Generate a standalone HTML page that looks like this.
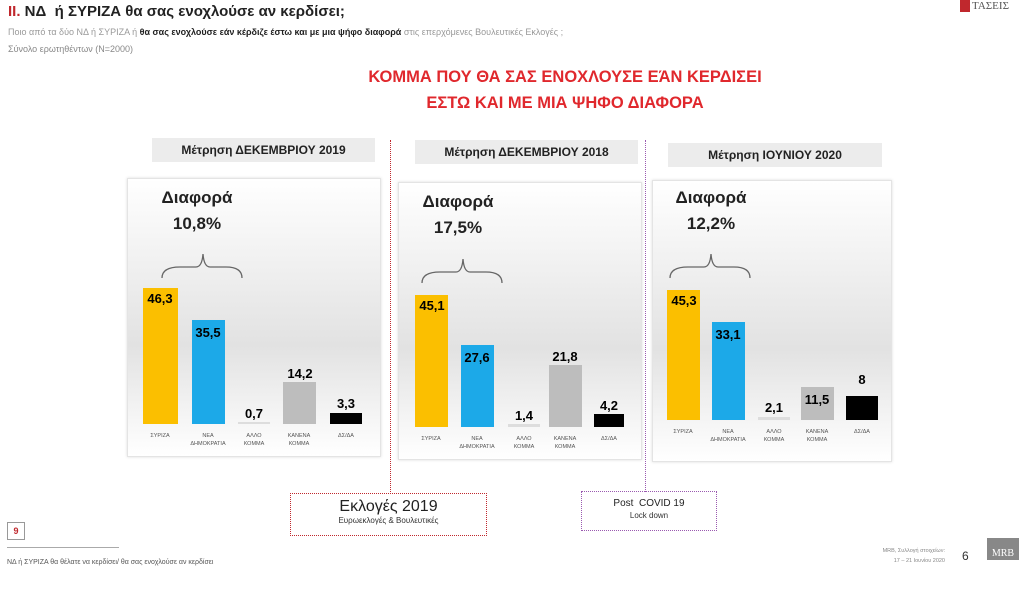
<!DOCTYPE html>
<html><head><meta charset="utf-8"><style>
body{margin:0;width:1024px;height:595px;background:#fff;position:relative;overflow:hidden;font-family:"Liberation Sans","DejaVu Sans",sans-serif}
.a{position:absolute}
.hdr{background:#ececec;font-size:12px;font-weight:bold;color:#222;text-align:center;line-height:24px}
.box{background:linear-gradient(#fff 0%,#e2e2e2 60%,#fff 100%);border:1px solid #e4e4e4;box-shadow:0 0 3px #ddd}
.b{position:absolute}
.v{position:absolute;font-weight:bold;font-size:13px;text-align:center;width:40px}
.l{position:absolute;font-size:5.5px;color:#555;text-align:center;width:50px;line-height:8px}
.d{position:absolute;font-size:17px;font-weight:bold;color:#222;text-align:center;width:120px;line-height:26px}
</style></head><body>
<div class="a" style="left:8px;top:3px;font-size:15px;font-weight:bold;color:#222"><span style="color:#c0282d">II.</span> ΝΔ &nbsp;ή ΣΥΡΙΖΑ θα σας ενοχλούσε αν κερδίσει;</div>
<div class="a" style="left:8px;top:27px;font-size:9px;color:#999">Ποιο από τα δύο ΝΔ ή ΣΥΡΙΖΑ ή <b style="color:#222">θα σας ενοχλούσε εάν κέρδιζε έστω και με μια ψήφο διαφορά</b> στις επερχόμενες Βουλευτικές Εκλογές ;</div>
<div class="a" style="left:8px;top:44px;font-size:9px;color:#888">Σύνολο ερωτηθέντων (Ν=2000)</div>
<div class="a" style="left:960px;top:0;width:10px;height:12px;background:#c0282d"></div>
<div class="a" style="left:972px;top:0;font-size:11px;color:#555;font-family:'Liberation Serif',serif">ΤΑΣΕΙΣ</div>
<div class="a" style="left:300px;top:64px;width:530px;text-align:center;font-size:16.5px;font-weight:bold;color:#e0282d;line-height:26px">ΚΟΜΜΑ ΠΟΥ ΘΑ ΣΑΣ ΕΝΟΧΛΟΥΣΕ ΕΆΝ ΚΕΡΔΙΣΕΙ<br>ΕΣΤΩ ΚΑΙ ΜΕ ΜΙΑ ΨΗΦΟ ΔΙΑΦΟΡΑ</div>

<div class="a" style="left:390px;top:140px;height:352px;border-left:1px dotted #c0282d"></div>
<div class="a" style="left:645px;top:140px;height:352px;border-left:1px dotted #9a5ab0"></div>

<!-- panel 1 -->
<div class="a hdr" style="left:152px;top:138px;width:223px">Μέτρηση ΔΕΚΕΜΒΡΙΟΥ 2019</div>
<div class="a box" style="left:127px;top:178px;width:252px;height:277px"></div>
<div class="d" style="left:137px;top:185px">Διαφορά<br>10,8%</div>
<svg class="a" style="left:160px;top:250px" width="85" height="30"><path d="M2 28 Q2 17 20 17 L36 17 Q42 17 43 4 Q44 17 50 17 L66 17 Q82 17 82 28" fill="none" stroke="#666" stroke-width="1.3"/></svg>
<div class="b" style="left:143px;top:288px;width:35px;height:136px;background:#fbbf00"></div>
<div class="b" style="left:192px;top:320px;width:33px;height:104px;background:#1ca9e8"></div>
<div class="b" style="left:238px;top:422px;width:32px;height:2px;background:#ddd"></div>
<div class="b" style="left:283px;top:382px;width:33px;height:42px;background:#bdbdbd"></div>
<div class="b" style="left:330px;top:413px;width:32px;height:11px;background:#000"></div>
<div class="v" style="left:140px;top:291px">46,3</div>
<div class="v" style="left:188px;top:325px">35,5</div>
<div class="v" style="left:234px;top:406px">0,7</div>
<div class="v" style="left:280px;top:366px">14,2</div>
<div class="v" style="left:326px;top:396px">3,3</div>
<div class="l" style="left:135px;top:432px">ΣΥΡΙΖΑ</div>
<div class="l" style="left:183px;top:432px">ΝΕΑ<br>ΔΗΜΟΚΡΑΤΙΑ</div>
<div class="l" style="left:229px;top:432px">ΑΛΛΟ<br>ΚΟΜΜΑ</div>
<div class="l" style="left:274px;top:432px">ΚΑΝΕΝΑ<br>ΚΟΜΜΑ</div>
<div class="l" style="left:321px;top:432px">ΔΣ/ΔΑ</div>

<!-- panel 2 -->
<div class="a hdr" style="left:415px;top:140px;width:223px">Μέτρηση ΔΕΚΕΜΒΡΙΟΥ 2018</div>
<div class="a box" style="left:398px;top:182px;width:242px;height:276px"></div>
<div class="d" style="left:398px;top:189px">Διαφορά<br>17,5%</div>
<svg class="a" style="left:420px;top:255px" width="85" height="30"><path d="M2 28 Q2 17 20 17 L36 17 Q42 17 43 4 Q44 17 50 17 L66 17 Q82 17 82 28" fill="none" stroke="#666" stroke-width="1.3"/></svg>
<div class="b" style="left:415px;top:295px;width:33px;height:132px;background:#fbbf00"></div>
<div class="b" style="left:461px;top:345px;width:33px;height:82px;background:#1ca9e8"></div>
<div class="b" style="left:508px;top:424px;width:32px;height:3px;background:#ddd"></div>
<div class="b" style="left:549px;top:365px;width:33px;height:62px;background:#bdbdbd"></div>
<div class="b" style="left:594px;top:414px;width:30px;height:13px;background:#000"></div>
<div class="v" style="left:412px;top:298px">45,1</div>
<div class="v" style="left:457px;top:350px">27,6</div>
<div class="v" style="left:504px;top:408px">1,4</div>
<div class="v" style="left:545px;top:349px">21,8</div>
<div class="v" style="left:589px;top:398px">4,2</div>
<div class="l" style="left:406px;top:435px">ΣΥΡΙΖΑ</div>
<div class="l" style="left:452px;top:435px">ΝΕΑ<br>ΔΗΜΟΚΡΑΤΙΑ</div>
<div class="l" style="left:499px;top:435px">ΑΛΛΟ<br>ΚΟΜΜΑ</div>
<div class="l" style="left:540px;top:435px">ΚΑΝΕΝΑ<br>ΚΟΜΜΑ</div>
<div class="l" style="left:584px;top:435px">ΔΣ/ΔΑ</div>

<!-- panel 3 -->
<div class="a hdr" style="left:668px;top:143px;width:214px">Μέτρηση ΙΟΥΝΙΟΥ 2020</div>
<div class="a box" style="left:652px;top:180px;width:238px;height:280px"></div>
<div class="d" style="left:651px;top:185px">Διαφορά<br>12,2%</div>
<svg class="a" style="left:668px;top:250px" width="85" height="30"><path d="M2 28 Q2 17 20 17 L36 17 Q42 17 43 4 Q44 17 50 17 L66 17 Q82 17 82 28" fill="none" stroke="#666" stroke-width="1.3"/></svg>
<div class="b" style="left:667px;top:290px;width:33px;height:130px;background:#fbbf00"></div>
<div class="b" style="left:712px;top:322px;width:33px;height:98px;background:#1ca9e8"></div>
<div class="b" style="left:758px;top:417px;width:32px;height:3px;background:#ddd"></div>
<div class="b" style="left:801px;top:387px;width:33px;height:33px;background:#bdbdbd"></div>
<div class="b" style="left:846px;top:396px;width:32px;height:24px;background:#000"></div>
<div class="v" style="left:664px;top:293px">45,3</div>
<div class="v" style="left:708px;top:327px">33,1</div>
<div class="v" style="left:754px;top:400px">2,1</div>
<div class="v" style="left:797px;top:392px">11,5</div>
<div class="v" style="left:842px;top:372px">8</div>
<div class="l" style="left:658px;top:428px">ΣΥΡΙΖΑ</div>
<div class="l" style="left:703px;top:428px">ΝΕΑ<br>ΔΗΜΟΚΡΑΤΙΑ</div>
<div class="l" style="left:749px;top:428px">ΑΛΛΟ<br>ΚΟΜΜΑ</div>
<div class="l" style="left:792px;top:428px">ΚΑΝΕΝΑ<br>ΚΟΜΜΑ</div>
<div class="l" style="left:837px;top:428px">ΔΣ/ΔΑ</div>

<!-- bottom boxes -->
<div class="a" style="left:290px;top:493px;width:195px;height:41px;border:1px dotted #c0282d;text-align:center">
<div style="font-size:16px;color:#222;margin-top:4px">Εκλογές 2019</div><div style="font-size:8px;color:#333">Ευρωεκλογές &amp; Βουλευτικές</div></div>
<div class="a" style="left:581px;top:491px;width:134px;height:38px;border:1px dotted #9a5ab0;text-align:center">
<div style="font-size:10px;color:#222;margin-top:6px">Post &nbsp;COVID 19</div><div style="font-size:8px;color:#333;margin-top:2px">Lock down</div></div>

<div class="a" style="left:7px;top:522px;width:16px;height:16px;border:1px solid #999;font-size:9px;font-weight:bold;color:#c0282d;text-align:center;line-height:16px">9</div>
<div class="a" style="left:7px;top:547px;width:112px;border-top:1px solid #aaa"></div>
<div class="a" style="left:7px;top:559px;font-size:7px;color:#555">ΝΔ ή ΣΥΡΙΖΑ θα θέλατε να κερδίσει/ θα σας ενοχλούσε αν κερδίσει</div>
<div class="a" style="left:810px;top:546px;width:135px;font-size:5.5px;color:#888;text-align:right;line-height:10px">MRB, Συλλογή στοιχείων:<br>17 – 21 Ιουνίου 2020</div>
<div class="a" style="left:962px;top:549px;font-size:12px;color:#333">6</div>
<div class="a" style="left:987px;top:538px;width:32px;height:22px;background:#888;color:#fff;font-size:10px;font-family:'Liberation Serif',serif;text-align:center;line-height:32px">MRB</div>
</body></html>
